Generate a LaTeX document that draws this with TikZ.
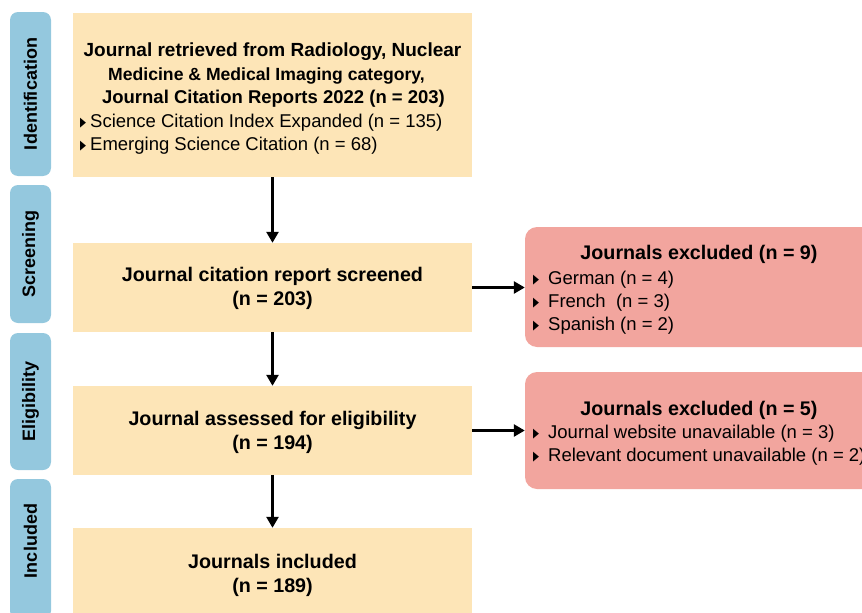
\documentclass[tikz,border=0pt]{standalone}
\usepackage{fontspec}
\setmainfont{Liberation Sans}
\newfontfamily\dvfont{DejaVu Sans}
\usetikzlibrary{arrows.meta}
\definecolor{sideblue}{RGB}{148,200,222}
\definecolor{boxyellow}{RGB}{253,229,183}
\definecolor{boxred}{RGB}{242,165,158}
\newcommand\bulglyph{\raisebox{0.3pt}{\scalebox{0.6}[1]{\dvfont\fontsize{13}{13}\selectfont ▶}}}
\newcommand\bul{\makebox[10pt][l]{\bulglyph}}
\newcommand\bulr{\makebox[15pt][l]{\bulglyph}}
\begin{document}
\begin{tikzpicture}[x=1pt,y=-1pt,
 side/.style={fill=sideblue, rounded corners=8pt, minimum width=41pt, inner sep=0pt},
 ybox/.style={fill=boxyellow, minimum width=399pt, inner sep=0pt},
 rbox/.style={fill=boxred, rounded corners=12pt, minimum width=350pt, inner sep=0pt},
 lbl/.style={font=\fontsize{18}{20}\selectfont\bfseries, rotate=90, inner sep=0pt},
 ttl/.style={font=\fontsize{19.7}{24}\selectfont\bfseries, anchor=base, inner sep=0pt},
 itm/.style={font=\fontsize{18.5}{24}\selectfont, anchor=base west, inner sep=0pt},
 arr/.style={line width=2.6pt, -{Triangle[length=11pt,width=12pt]}}
]
\useasboundingbox (0,0) rectangle (862,613);
% side bars
\node[side, minimum height=164pt] (sid) at (30.5,94) {};
\node[lbl] at (sid.center) {Identification};
\node[side, minimum height=138pt] (ssc) at (30.5,254) {};
\node[lbl] at (ssc.center) {Screening};
\node[side, minimum height=137pt] (sel) at (30.5,401.5) {};
\node[lbl] at (sel.center) {Eligibility};
\node[side, minimum height=140pt] (sin) at (30.5,549) {};
\node[lbl] at (30.5,541) {Included};
% yellow boxes
\node[ybox, minimum height=164pt] (y1) at (272.5,95) {};
\node[ybox, minimum height=89pt] (y2) at (272.5,287.5) {};
\node[ybox, minimum height=89pt] (y3) at (272.5,430.5) {};
\node[ybox, minimum height=90pt] (y4) at (272.5,573) {};
% red boxes
\node[rbox, minimum height=120pt] (r1) at (700,287) {};
\node[rbox, minimum height=117pt] (r2) at (700,430.5) {};
% texts box 1
\node[ttl, font=\fontsize{19}{24}\selectfont\bfseries] at (272.5,56) {Journal retrieved from Radiology, Nuclear};
\node[ttl, font=\fontsize{17.6}{24}\selectfont\bfseries] at (266.5,80) {Medicine \& Medical Imaging category,};
\node[ttl, font=\fontsize{18.5}{24}\selectfont\bfseries] at (273.5,103) {Journal Citation Reports 2022 (n = 203)};
\node[itm] at (80,127) {\bul Science Citation Index Expanded (n = 135)};
\node[itm] at (80,150) {\bul Emerging Science Citation (n = 68)};
% box 2-4
\node[ttl] at (272.5,281.5) {Journal citation report screened};
\node[ttl] at (272.5,305.5) {(n = 203)};
\node[ttl] at (272.5,425.5) {Journal assessed for eligibility};
\node[ttl] at (272.5,449.5) {(n = 194)};
\node[ttl] at (272.5,568.5) {Journals included};
\node[ttl] at (272.5,592.5) {(n = 189)};
% red texts
\node[ttl] at (699,259) {Journals excluded (n = 9)};
\node[itm] at (533,284) {\bulr German (n = 4)};
\node[itm] at (533,307) {\bulr French\ \ (n = 3)};
\node[itm] at (533,330) {\bulr Spanish (n = 2)};
\node[ttl] at (699,415) {Journals excluded (n = 5)};
\node[itm] at (533,438) {\bulr Journal website unavailable (n = 3)};
\node[itm] at (533,461) {\bulr Relevant document unavailable (n = 2)};
% arrows
\draw[arr] (y1.south) -- (y2.north);
\draw[arr] (y2.south) -- (y3.north);
\draw[arr] (y3.south) -- (y4.north);
\draw[arr] (y2.east) -- (r1.west|-y2.east);
\draw[arr] (y3.east) -- (r2.west|-y3.east);
\end{tikzpicture}
\end{document}
